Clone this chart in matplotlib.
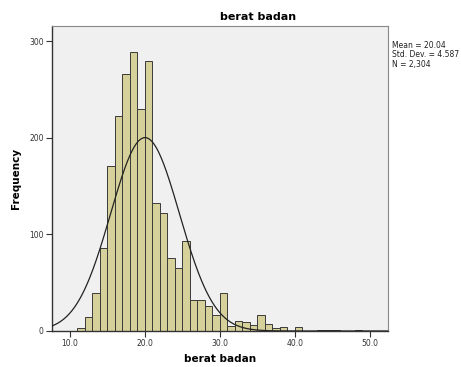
import matplotlib
matplotlib.use("Agg")
import matplotlib.pyplot as plt
import numpy as np

# histogram bins of width 1.0 (left edges) and their counts
bin_left = np.arange(11, 49)
counts = [3, 15, 39, 86, 171, 223, 266, 289, 230, 280,
          133, 122, 76, 65, 93, 32, 32, 26, 17, 39,
          5, 10, 9, 6, 17, 7, 3, 4, 0, 4,
          0, 0, 1, 1, 1, 0, 0, 1]

mean = 20.04
std_dev = 4.587
n_total = 2304
bin_width = 1.0

x_ticks = [10, 20, 30, 40, 50]
y_ticks = [0, 100, 200, 300]

fig = plt.figure(figsize=(4.61, 3.67), dpi=100)
ax = fig.add_axes([52 / 461, 36 / 367, 336 / 461, 305 / 367])
ax.set_facecolor("#f0f0f0")

ax.bar(bin_left, counts, width=bin_width, align="edge",
       color="#d6d09a", edgecolor="#3a3a3a", linewidth=0.7, zorder=2)

# fitted normal curve scaled to the counts
xs = np.linspace(7.6, 52.4, 400)
pdf = np.exp(-0.5 * ((xs - mean) / std_dev) ** 2) / (std_dev * np.sqrt(2 * np.pi))
ax.plot(xs, n_total * bin_width * pdf, color="#222222", linewidth=0.9, zorder=3)

ax.set_xlim(7.65, 52.4)
ax.set_ylim(0, 316)
ax.set_xticks(x_ticks)
ax.set_xticklabels([f"{v:.1f}" for v in x_ticks])
ax.set_yticks(y_ticks)
ax.tick_params(labelsize=5.5, colors="#333333", length=4, width=0.8, pad=2)

for side in ["left", "bottom"]:
    ax.spines[side].set_color("#333333")
    ax.spines[side].set_linewidth(1.0)
for side in ["top", "right"]:
    ax.spines[side].set_color("#888888")
    ax.spines[side].set_linewidth(0.8)

ax.set_xlabel("berat badan", fontsize=7.5, fontweight="bold", labelpad=4)
ax.set_ylabel("Frequency", fontsize=7.5, fontweight="bold", labelpad=6)
fig.text(258 / 461, 1 - 17 / 367, "berat badan", fontsize=8, fontweight="bold",
         ha="center", va="center")

stats = f"Mean = {mean:.2f}\nStd. Dev. = {std_dev:.3f}\nN = {n_total:,}"
fig.text(392 / 461, 1 - 41 / 367, stats, fontsize=5.5, color="#222222",
         ha="left", va="top", linespacing=1.05)

fig.savefig("out.png", dpi=100, facecolor="white")
